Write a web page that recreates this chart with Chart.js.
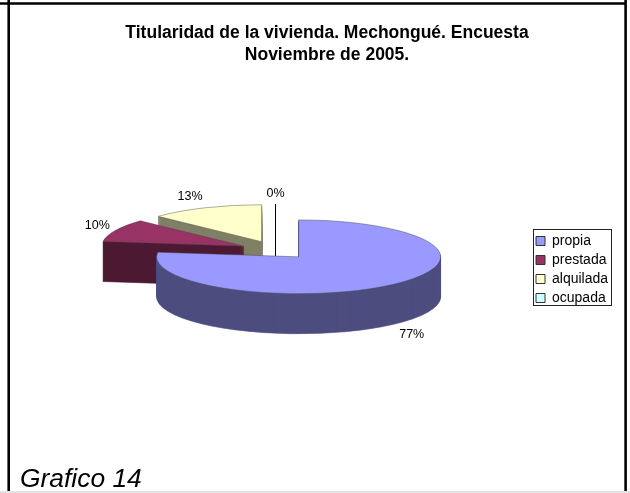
<!DOCTYPE html>
<html><head><meta charset="utf-8">
<style>html,body{margin:0;padding:0;background:#fff}canvas{display:block}</style>
<script src="https://cdn.jsdelivr.net/npm/chart.js@4/dist/chart.umd.js"></script>
</head><body>
<div style="width:630px;height:493px"><canvas id="c" width="630" height="493"></canvas></div>
<script>
const categories = ['propia','prestada','alquilada','ocupada'];
const values = [77,10,13,0];
const topColors = ['#9999FF','#993366','#FFFFCC','#CCFFFF'];
const sideColors = ['#4D4D80','#4D1A33','#808066','#668080'];
const titleLines = ['Titularidad de la vivienda. Mechongué. Encuesta','Noviembre de 2005.'];
const caption = 'Grafico 14';
const labelGaps = [29,20,38,41];
const labelNudges = [4,-3,-2,0];
const font = 'Liberation Sans';

const view = {cx:275.5, cy:250, squash:0.26, depth:40, explode:35};

const plugin3d = {
  id:'pie3d',
  beforeDraw(chart){
    const c = chart.ctx;
    c.save();
    c.fillStyle='#fff'; c.fillRect(0,0,630,493);
    c.fillStyle='#e4e4e4'; c.fillRect(0,491,630,2);
    c.strokeStyle='#000'; c.lineWidth=2.6;
    c.beginPath(); c.moveTo(0,3.5); c.lineTo(626,3.5); c.stroke();
    c.beginPath(); c.moveTo(8.7,0); c.lineTo(8.7,491); c.stroke();
    c.beginPath(); c.moveTo(625.6,0); c.lineTo(625.6,491); c.stroke();
    c.fillStyle='#000'; c.font='italic 26.4px "'+font+'"';
    c.textBaseline='alphabetic'; c.textAlign='left';
    c.fillText(caption,20,487);
    c.restore();
  },
  afterLayout(chart){
    const l = chart.legend, t = chart.titleBlock;
    l.left = 531; l.top = 229; l.right = l.left+l.width; l.bottom = l.top+l.height;
    t.left = 24; t.right = 630;
  },
  beforeDatasetDraw(chart,args){
    const c = chart.ctx, arcs = chart.getDatasetMeta(0).data;
    const drawArc = (el,color,border)=>{
      const saved = el.options;
      el.options = Object.assign({},saved,{backgroundColor:color,borderColor:border||color,borderWidth:border?0.7:1});
      Chart.ArcElement.prototype.draw.call(el,c);
      el.options = saved;
    };
    const place = (el,shift)=>{
      const mid = (el.startAngle+el.endAngle)/2;
      const ex = Math.cos(mid)*view.explode, ey = Math.sin(mid)*view.explode*view.squash;
      c.translate(view.cx+ex-el.x, view.cy+ey+shift);
      c.translate(el.x,0); c.scale(1,view.squash); c.translate(-el.x,-el.y);
    };
    [2,1,3,0].forEach(i=>{
      const el = arcs[i];
      if(values[i]===0){
        // a zero-width slice shows only as its radial wall
        const ax = view.cx + Math.cos(el.startAngle)*(view.explode+el.outerRadius);
        const ay = view.cy + Math.sin(el.startAngle)*view.explode*view.squash;
        c.save(); c.strokeStyle='#000'; c.lineWidth=1;
        c.beginPath();
        c.moveTo(ax, ay+Math.sin(el.startAngle)*el.outerRadius*view.squash);
        c.lineTo(ax, ay+view.depth);
        c.stroke(); c.restore();
        return;
      }
      for(let s=view.depth;s>0;s-=1){
        c.save(); place(el,s); drawArc(el,sideColors[i]); c.restore();
      }
      c.save(); place(el,0); drawArc(el,topColors[i],'#444'); c.restore();
    });
    return false;
  },
  afterDatasetsDraw(chart){
    const c = chart.ctx, arcs = chart.getDatasetMeta(0).data;
    c.save();
    c.fillStyle='#000'; c.font='12.5px "'+font+'"'; c.textAlign='center'; c.textBaseline='middle';
    arcs.forEach((el,i)=>{
      const mid = (el.startAngle+el.endAngle)/2;
      const ca = Math.cos(mid), sa = Math.sin(mid);
      const ax = view.cx + ca*view.explode, ay = view.cy + sa*view.explode*view.squash;
      const r = el.outerRadius + labelGaps[i];
      const x = ax + ca*r;
      const y = ay + sa*r*view.squash + (sa>0 ? view.depth : 0) + labelNudges[i];
      c.fillText(values[i]+'%',x,y);
    });
    c.strokeStyle='#222'; c.lineWidth=1;
    c.strokeRect(533.5,229.5,78,76);
    c.restore();
  }
};

new Chart(document.getElementById('c'),{
  type:'pie',
  data:{labels:categories,datasets:[{data:values,backgroundColor:topColors,borderColor:'#333',borderWidth:0.5,clip:false}]},
  plugins:[plugin3d],
  options:{
    responsive:false,animation:false,radius:142,
    layout:{padding:0},
    plugins:{
      tooltip:{enabled:false},
      title:{display:true,text:titleLines,color:'#000',font:{family:font,size:17.5,weight:'bold',lineHeight:1.26},padding:{top:22,bottom:0}},
      legend:{position:'right',align:'start',labels:{
        color:'#000',font:{family:font,size:14},boxWidth:9,boxHeight:9,padding:5,
        generateLabels(){return categories.map((t,i)=>({text:t,fillStyle:topColors[i],strokeStyle:'#333',lineWidth:1,hidden:false,index:i,fontColor:'#000'}));}
      }}
    }
  }
});
</script>
</body></html>
